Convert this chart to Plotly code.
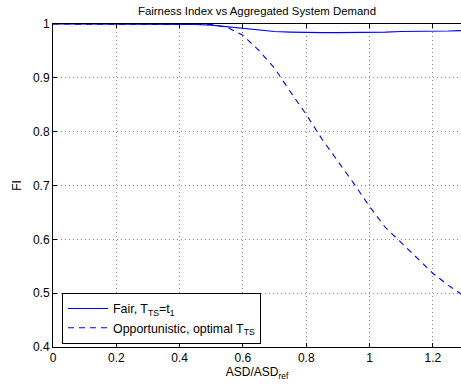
import plotly.graph_objects as go

asd = [0, 0.1, 0.2, 0.3, 0.4, 0.45, 0.5, 0.55, 0.6, 0.65, 0.7, 0.75, 0.8,
       0.85, 0.9, 0.95, 1.0, 1.05, 1.1, 1.15, 1.2, 1.25, 1.3]
fi_fair = [1, 1, 1, 1, 1, 0.999, 0.998, 0.995, 0.991, 0.988, 0.986, 0.985, 0.984,
           0.984, 0.984, 0.984, 0.985, 0.985, 0.986, 0.986, 0.987, 0.987, 0.988]
fi_opp = [1, 1, 1, 1, 1, 1, 0.999, 0.994, 0.979, 0.951, 0.918, 0.874, 0.832,
          0.786, 0.746, 0.704, 0.661, 0.622, 0.594, 0.565, 0.537, 0.514, 0.494]
x_ticks = [0, 0.2, 0.4, 0.6, 0.8, 1, 1.2]
x_tick_labels = ["0", "0.2", "0.4", "0.6", "0.8", "1", "1.2"]
y_ticks = [0.4, 0.5, 0.6, 0.7, 0.8, 0.9, 1]
y_tick_labels = ["0.4", "0.5", "0.6", "0.7", "0.8", "0.9", "1"]

FONT = "Liberation Sans, Arial, Helvetica, sans-serif"

fig = go.Figure()
fig.add_trace(go.Scatter(x=asd, y=fi_fair, mode="lines",
                         name="Fair, T<sub>TS</sub>=t<sub>1</sub>",
                         line=dict(color="rgb(0,0,255)", width=1.1)))
fig.add_trace(go.Scatter(x=asd, y=fi_opp, mode="lines",
                         name="Opportunistic, optimal T<sub>TS</sub>",
                         line=dict(color="rgb(0,0,255)", width=1.1, dash="6px,5px")))

fig.update_layout(
    width=461, height=389,
    margin=dict(l=53, r=0, t=24, b=42),
    paper_bgcolor="white", plot_bgcolor="white",
    font=dict(family=FONT, size=12, color="black"),
    title=dict(text="Fairness Index vs Aggregated System Demand",
               x=(53 + 408 / 2) / 461, xanchor="center",
               y=1 - 11.5 / 389, yanchor="middle",
               font=dict(family=FONT, size=11.4, color="black")),
    showlegend=True,
    legend=dict(x=9 / 408, y=(347 - 293) / 323, xanchor="left", yanchor="top",
                bgcolor="white", bordercolor="black", borderwidth=1,
                font=dict(family=FONT, size=12.4, color="black"),
                tracegroupgap=0, itemwidth=40),
    xaxis=dict(range=[0, 1.289], tickvals=x_ticks, ticktext=x_tick_labels,
               showline=True, linecolor="black", linewidth=1, mirror="ticks",
               ticks="inside", ticklen=4, tickcolor="black",
               tickfont=dict(family=FONT, size=12, color="black"),
               showgrid=True, gridcolor="#8a8a8a", griddash="1px,3px", gridwidth=1,
               zeroline=False,
               title=dict(text="ASD/ASD<sub>ref</sub>", standoff=1,
                          font=dict(family=FONT, size=12, color="black"))),
    yaxis=dict(range=[0.4, 1.0], tickvals=y_ticks, ticktext=y_tick_labels,
               showline=True, linecolor="black", linewidth=1, mirror=False,
               ticks="inside", ticklen=4, tickcolor="black",
               tickfont=dict(family=FONT, size=12, color="black"),
               showgrid=True, gridcolor="#8a8a8a", griddash="1px,3px", gridwidth=1,
               zeroline=False,
               title=dict(text="FI", standoff=8,
                          font=dict(family=FONT, size=12, color="black"))),
)

fig.write_html("out.html",
               config={"displayModeBar": False},
               post_script="document.body.style.margin='0';document.body.style.overflow='hidden';")
